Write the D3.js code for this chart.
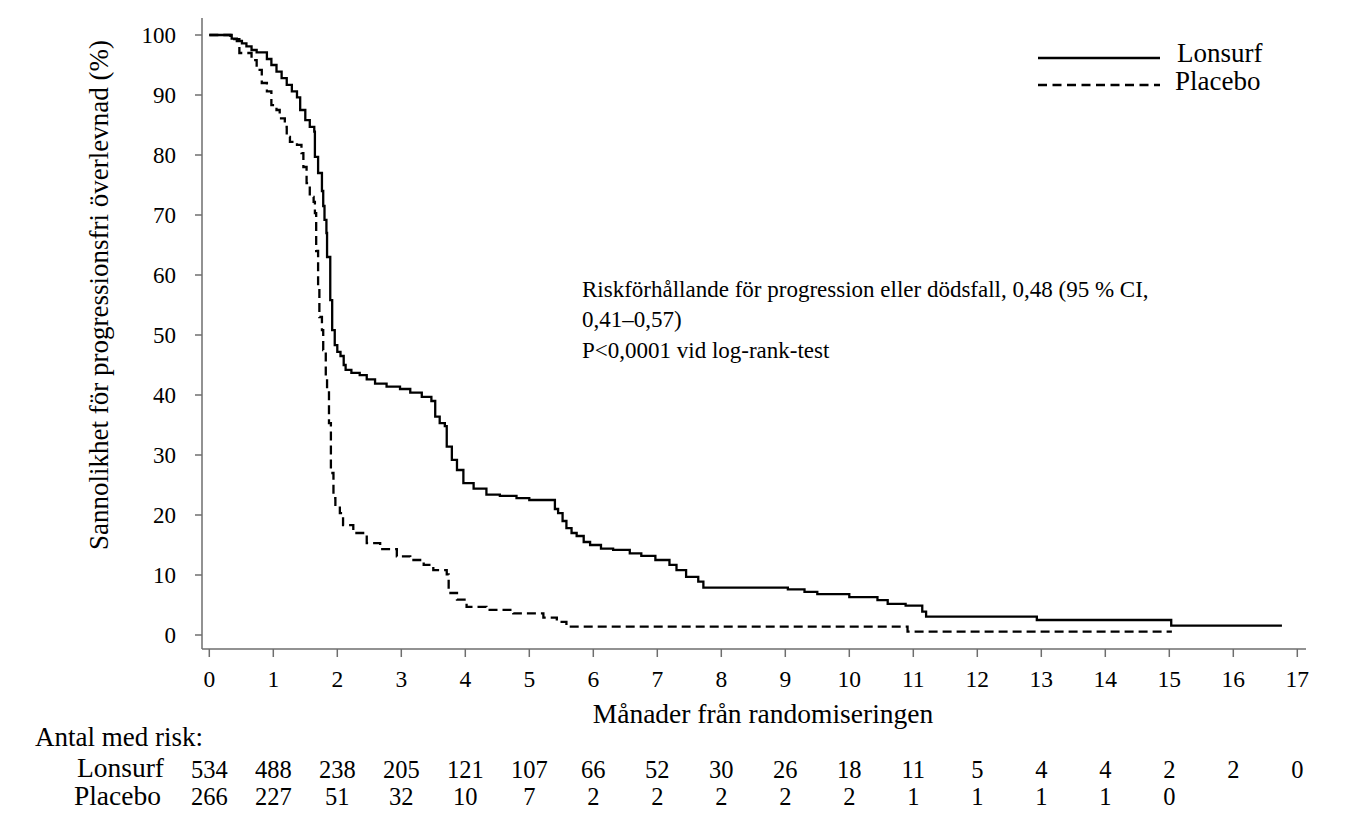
<!DOCTYPE html>
<html><head><meta charset="utf-8">
<script src="https://cdn.jsdelivr.net/npm/d3@7"></script>
<style>body{margin:0;background:#fff}svg{display:block}text{font-family:"Liberation Serif","Times New Roman",serif;fill:#000}</style>
</head><body>
<svg id="c" width="1347" height="816"></svg>
<script>
const lonsurfTime = [0,0.35,0.43,0.51,0.58,0.66,0.74,0.90,0.97,1.05,1.13,1.21,1.29,1.37,1.42,1.50,1.57,1.64,1.65,1.70,1.76,1.78,1.80,1.83,1.84,1.89,1.92,1.96,2.00,2.05,2.10,2.13,2.22,2.35,2.46,2.59,2.77,2.98,3.14,3.32,3.47,3.53,3.60,3.68,3.71,3.79,3.87,3.97,4.13,4.33,4.54,4.80,5.00,5.40,5.45,5.52,5.58,5.66,5.74,5.85,5.95,6.12,6.31,6.57,6.75,6.97,7.19,7.30,7.45,7.64,7.72,9.04,9.30,9.50,10.00,10.44,10.60,10.88,11.14,11.20,12.93,15.03,16.76];
const lonsurfSurv = [100,99.4,99.0,98.6,98.1,97.5,97.1,96.0,95.0,93.9,92.8,91.7,90.6,89.6,87.5,85.8,84.7,83.9,79.7,77.0,74.0,71.5,69.2,67.0,63.0,55.8,50.8,48.3,47.2,46.5,45.0,44.2,43.7,43.3,42.6,41.9,41.4,41.0,40.4,39.7,39.0,36.4,35.3,34.8,31.4,29.2,27.5,25.3,24.4,23.4,23.2,22.8,22.5,21.0,20.3,19.0,17.8,17.0,16.5,15.5,15.0,14.4,14.2,13.6,13.2,12.5,11.7,10.8,9.7,8.9,7.9,7.6,7.2,6.8,6.3,5.8,5.2,4.9,3.9,3.05,2.5,1.55,1.55];
const placeboTime = [0,0.33,0.47,0.66,0.74,0.82,0.90,0.97,1.05,1.10,1.18,1.21,1.26,1.37,1.44,1.47,1.52,1.57,1.63,1.65,1.67,1.70,1.72,1.76,1.78,1.82,1.84,1.87,1.90,1.94,1.97,2.04,2.09,2.25,2.46,2.67,2.93,3.14,3.35,3.50,3.71,3.74,3.87,4.02,4.33,4.75,5.22,5.43,5.58,10.91,15.04];
const placeboSurv = [100,99.3,97.0,95.8,94.2,92.0,90.6,88.3,87.5,86.1,84.7,83.0,82.2,81.7,80.3,78.0,75.3,73.0,72.2,70.3,64.0,58.0,53.0,50.8,47.5,43.0,40.8,35.3,27.0,22.8,21.7,20.3,18.3,17.0,15.3,14.3,13.1,12.5,11.7,10.8,10.1,7.0,5.9,4.7,4.2,3.6,2.9,2.2,1.4,0.55,0.55];
const xTicks = d3.range(0,18);
const yTicks = [0,10,20,30,40,50,60,70,80,90,100];
const riskLonsurf = [534,488,238,205,121,107,66,52,30,26,18,11,5,4,4,2,2,0];
const riskPlacebo = [266,227,51,32,10,7,2,2,2,2,2,1,1,1,1,0];
const seriesNames = ["Lonsurf","Placebo"];
const annotation = ["Riskförhållande för progression eller dödsfall, 0,48 (95 % CI,","0,41–0,57)","P<0,0001 vid log-rank-test"];

const svg = d3.select("#c");
const x = d3.scaleLinear().domain([0,17]).range([209.3,1297.3]);
const y = d3.scaleLinear().domain([0,100]).range([635,35]);
const axisColor = "#6e6e6e";

svg.append("line").attr("x1",202).attr("x2",202).attr("y1",18).attr("y2",649).attr("stroke",axisColor).attr("stroke-width",1.5);
svg.append("line").attr("x1",202).attr("x2",1306).attr("y1",649).attr("y2",649).attr("stroke",axisColor).attr("stroke-width",1.5);

const yg = svg.append("g");
yg.selectAll("line").data(yTicks).join("line")
  .attr("x1",195).attr("x2",202).attr("y1",d=>y(d)).attr("y2",d=>y(d)).attr("stroke",axisColor).attr("stroke-width",1.5);
yg.selectAll("text").data(yTicks).join("text")
  .attr("x",176).attr("y",d=>y(d)+8).attr("text-anchor","end").attr("font-size",23).text(d=>d);

const xg = svg.append("g");
xg.selectAll("line").data(xTicks).join("line")
  .attr("x1",d=>x(d)).attr("x2",d=>x(d)).attr("y1",649).attr("y2",657).attr("stroke",axisColor).attr("stroke-width",1.5);
xg.selectAll("text").data(xTicks).join("text")
  .attr("x",d=>x(d)).attr("y",687).attr("text-anchor","middle").attr("font-size",23.5).text(d=>d);

svg.append("text").attr("transform","translate(108,295) rotate(-90)").attr("text-anchor","middle").attr("font-size",27)
  .text("Sannolikhet för progressionsfri överlevnad (%)");
svg.append("text").attr("x",763).attr("y",723).attr("text-anchor","middle").attr("font-size",27.5).text("Månader från randomiseringen");

const line = d3.line().x(d=>x(d[0])).y(d=>y(d[1])).curve(d3.curveStepAfter);
const lData = lonsurfTime.map((t,i)=>[t,lonsurfSurv[i]]);
const pData = placeboTime.map((t,i)=>[t,placeboSurv[i]]);
svg.append("path").attr("d",line(lData)).attr("fill","none").attr("stroke","#000").attr("stroke-width",2.3);
svg.append("path").attr("d",line(pData)).attr("fill","none").attr("stroke","#000").attr("stroke-width",2.3).attr("stroke-dasharray","9,5");

const leg = svg.append("g");
seriesNames.forEach((n,i)=>{
  const ly = 58 + i*27;
  leg.append("line").attr("x1",1038).attr("x2",1160).attr("y1",ly).attr("y2",ly).attr("stroke","#000").attr("stroke-width",2.3)
    .attr("stroke-dasharray", i===1 ? "9,5.5" : null);
  leg.append("text").attr("x",1177 - i*2).attr("y",ly+4+i*1).attr("font-size",27).text(n);
});

annotation.forEach((s,i)=>{
  svg.append("text").attr("x",582).attr("y",[297,327,358][i]).attr("font-size",23).text(s);
});

svg.append("text").attr("x",35).attr("y",746).attr("font-size",27).text("Antal med risk:");
svg.append("text").attr("x",164).attr("y",777).attr("text-anchor","end").attr("font-size",27.5).text(seriesNames[0]);
svg.append("text").attr("x",161).attr("y",805).attr("text-anchor","end").attr("font-size",27.5).text(seriesNames[1]);
svg.append("g").selectAll("text").data(riskLonsurf).join("text")
  .attr("x",(d,i)=>x(i)).attr("y",778).attr("text-anchor","middle").attr("font-size",24.5).text(d=>d);
svg.append("g").selectAll("text").data(riskPlacebo).join("text")
  .attr("x",(d,i)=>x(i)).attr("y",805).attr("text-anchor","middle").attr("font-size",24.5).text(d=>d);
</script>
</body></html>
